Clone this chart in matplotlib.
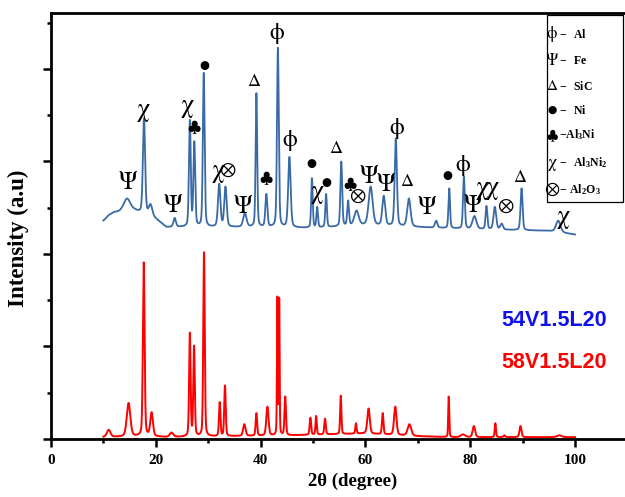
import numpy as np
import matplotlib
matplotlib.use('Agg')
import matplotlib.pyplot as plt
from matplotlib.ticker import MultipleLocator
from matplotlib.patches import Rectangle

plt.rcParams['font.family'] = ['Liberation Serif', 'DejaVu Sans']
plt.rcParams['mathtext.fontset'] = 'custom'
plt.rcParams['mathtext.rm'] = 'Liberation Serif'
plt.rcParams['mathtext.bf'] = 'Liberation Serif:bold'

# ---- peak tables (2theta, top of peak, FWHM) ----
# 54V1.5L20 (upper, blue)
blue_pos = [11.0, 14.5, 17.75, 19.0, 23.6, 26.5, 27.35, 29.15, 32.1, 33.3,
            37.0, 39.2, 41.1, 43.3, 45.5, 49.8, 50.8, 52.5, 55.4, 56.7,
            58.3, 61.0, 63.5, 65.8, 68.3, 73.5, 76.0, 78.8, 80.8, 83.1,
            84.7, 86.0, 89.8, 96.8]
blue_top = [2.42, 2.60, 3.47, 2.54, 2.39, 3.45, 3.22, 3.96, 2.76, 2.73,
            2.44, 3.74, 2.65, 4.23, 3.05, 2.82, 2.51, 2.65, 3.00, 2.58,
            2.47, 2.73, 2.63, 3.25, 2.60, 2.36, 2.71, 2.84, 2.41, 2.52,
            2.51, 2.33, 2.71, 2.36]
blue_fwhm = [0.8, 1.5, 0.5, 0.8, 0.55, 0.4, 0.4, 0.4, 0.55, 0.55,
             0.75, 0.35, 0.45, 0.4, 0.55, 0.35, 0.35, 0.35, 0.4, 0.4,
             1.0, 0.9, 0.65, 0.5, 0.75, 0.55, 0.35, 0.4, 0.9, 0.4,
             0.6, 0.6, 0.45, 1.0]
blue_bg_x = [10, 12, 16, 20, 22, 40, 50, 60, 70, 80, 95, 100]
blue_bg_y = [2.36, 2.45, 2.47, 2.38, 2.29, 2.29, 2.28, 2.31, 2.29, 2.27, 2.25, 2.21]

# 58V1.5L20 (lower, red)
red_pos = [11.0, 14.8, 17.7, 19.2, 23.0, 26.5, 27.3, 29.2, 32.2, 33.2,
           36.9, 39.2, 41.3, 43.2, 43.55, 44.7, 49.5, 50.6, 52.3, 55.3,
           58.2, 60.6, 63.3, 65.7, 68.4, 75.9, 78.6, 80.7, 84.8, 86.5,
           89.6, 97.0]
red_top = [0.10, 0.39, 1.91, 0.29, 0.07, 1.15, 1.01, 2.02, 0.40, 0.58,
           0.16, 0.28, 0.35, 1.54, 1.53, 0.46, 0.23, 0.25, 0.22, 0.47,
           0.17, 0.33, 0.28, 0.35, 0.16, 0.46, 0.05, 0.14, 0.17, 0.04,
           0.14, 0.04]
red_fwhm = [0.8, 0.8, 0.38, 0.6, 0.8, 0.33, 0.33, 0.33, 0.33, 0.33,
            0.55, 0.33, 0.5, 0.18, 0.18, 0.33, 0.33, 0.28, 0.33, 0.28,
            0.28, 0.55, 0.33, 0.55, 0.8, 0.22, 1.0, 0.55, 0.28, 0.4,
            0.45, 1.0]
red_bg_x = [10, 18, 22, 46, 60, 70, 76, 100]
red_bg_y = [0.02, 0.03, 0.02, 0.04, 0.06, 0.03, 0.02, 0.02]

# ---- phase marks above the blue pattern ----
mark_sym = ['Ψ', 'χ', 'Ψ', 'χ', '♣', '●', 'χ', '⊗', 'Ψ', 'Δ', '♣', 'ϕ', 'ϕ',
            '●', 'χ', '●', 'Δ', '♣', '⊗', 'Ψ', 'Ψ', 'ϕ', 'Δ', 'Ψ', '●', 'ϕ',
            'Ψ', 'χ', 'χ', '⊗', 'Δ', 'χ']
mark_x = [14.7, 17.6, 23.3, 26.1, 27.3, 29.2, 31.9, 33.6, 36.6, 38.7, 41.0, 43.1, 45.6,
          49.6, 50.9, 52.5, 54.4, 57.1, 58.4, 60.7, 63.8, 66.0, 67.9, 71.8, 75.6, 78.6,
          80.5, 82.3, 84.2, 86.6, 89.5, 97.7]
mark_y = [2.77, 3.56, 2.52, 3.60, 3.37, 4.03, 2.90, 2.90, 2.51, 3.86, 2.82, 4.39, 3.23,
          2.97, 2.67, 2.77, 3.14, 2.75, 2.62, 2.83, 2.75, 3.36, 2.78, 2.50, 2.84, 2.96,
          2.52, 2.71, 2.71, 2.52, 2.82, 2.40]

legend_sym = ['ϕ', 'Ψ', 'Δ', '●', '♣', 'χ', '⊗']
legend_txt = [r'$\mathbf{-\ \ Al}$', r'$\mathbf{-\ \ Fe}$', r'$\mathbf{-\ \ SiC}$',
              r'$\mathbf{-\ \ Ni}$', r'$\mathbf{-Al_3Ni}$', r'$\mathbf{-\ \ Al_3Ni_2}$',
              r'$\mathbf{-\ Al_2O_3}$']

samples = ['54V1.5L20', '58V1.5L20']
sample_colors = ['#1010ee', '#ff0000']


def peak_shape(x, c, w, eta=0.3):
    g = np.exp(-4 * np.log(2) * ((x - c) / w) ** 2)
    l = 1.0 / (1.0 + 4 * ((x - c) / w) ** 2)
    return eta * l + (1 - eta) * g


def pattern(x, pos, top, fwhm, bgx, bgy):
    pos, top, fwhm = np.array(pos), np.array(top), np.array(fwhm)
    bg_c = np.interp(pos, bgx, bgy)
    A = np.array([[peak_shape(ci, cj, wj) for cj, wj in zip(pos, fwhm)] for ci in pos])
    amp = np.linalg.solve(A, top - bg_c)
    y = np.interp(x, bgx, bgy)
    for c, w, a in zip(pos, fwhm, amp):
        y = y + a * peak_shape(x, c, w)
    return y


tt = np.linspace(10, 100, 6000)
y_blue = pattern(tt, blue_pos, blue_top, blue_fwhm, blue_bg_x, blue_bg_y)
y_red = pattern(tt, red_pos, red_top, red_fwhm, red_bg_x, red_bg_y)

fig = plt.figure(figsize=(6.25, 4.97), dpi=100)
ax = fig.add_axes([51 / 625, 58 / 497, 115 * 5.24 / 625, 426 / 497])

ax.plot(tt, y_blue, color='#3a6aa6', lw=1.3)
ax.plot(tt, y_red, color='#ff0000', lw=1.4)

ax.set_xlim(0, 115)
ax.set_ylim(0, 4.605)
ax.xaxis.set_major_locator(MultipleLocator(20))
ax.xaxis.set_minor_locator(MultipleLocator(10))
ax.yaxis.set_major_locator(MultipleLocator(1))
ax.yaxis.set_minor_locator(MultipleLocator(0.5))
ax.set_yticklabels([])
ax.tick_params(which='major', direction='out', length=6, width=1.8, labelsize=11, pad=5)
ax.tick_params(which='minor', direction='out', length=3, width=1.8)
for lab in ax.get_xticklabels():
    lab.set_fontweight('bold')
for s in ['left', 'bottom', 'top', 'right']:
    ax.spines[s].set_linewidth(2.0)

ax.set_xlabel('2θ (degree)', fontsize=13.5, fontweight='bold', labelpad=4)
ax.set_ylabel('Intensity (a.u)', fontsize=16.5, fontweight='bold', va='center')
ax.yaxis.set_label_coords(-33 / 602.6, (439 - 238) / 426)

mark_font = ['STIXGeneral', 'DejaVu Sans']
sizes = {'Ψ': 18, 'χ': 19, 'Δ': 13, 'ϕ': 17, '♣': 14, '⊗': 14, '●': 8.5}
for s, xx, yy in zip(mark_sym, mark_x, mark_y):
    ax.text(xx, yy, s, fontsize=sizes[s], ha='center', va='center', family=mark_font)

# legend box drawn in figure pixels
W, H = 625.0, 497.0
fig.patches.append(Rectangle((547 / W, 1 - 202 / H), 76 / W, 187 / H, transform=fig.transFigure,
                             facecolor='white', edgecolor='black', lw=0.9, zorder=5))
leg_y = [34, 61, 86, 110, 135, 163, 190]
leg_fs = {'ϕ': 12, 'Ψ': 12, 'Δ': 11, '●': 8, '♣': 12, 'χ': 13, '⊗': 13}
for s, t, py in zip(legend_sym, legend_txt, leg_y):
    fig.text(552 / W, 1 - py / H, s, fontsize=leg_fs[s], ha='center', va='center',
             family=mark_font, zorder=6)
    fig.text(559 / W, 1 - py / H, t, fontsize=8.5, ha='left', va='center', zorder=6)

for name, col, py in zip(samples, sample_colors, [320, 362]):
    fig.text(607 / W, 1 - py / H, name, fontsize=15.5, fontweight='bold', color=col,
             family='Liberation Sans', ha='right', va='center')

fig.savefig('out.png', dpi=100)
